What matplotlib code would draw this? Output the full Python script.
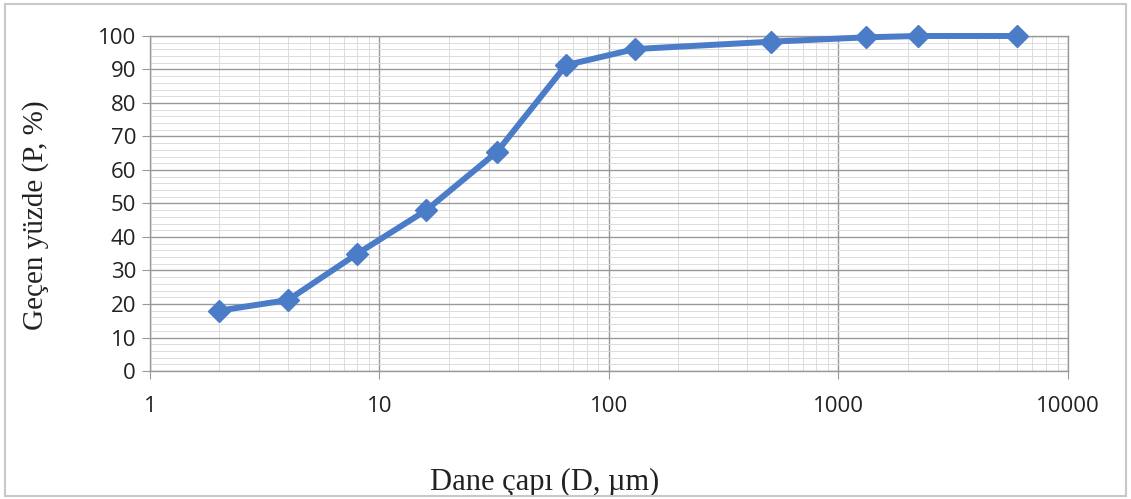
import numpy as np
import matplotlib.pyplot as plt
from matplotlib.ticker import LogLocator, MultipleLocator, FixedLocator, FixedFormatter

# Grain size distribution (cumulative passing)
diameter_um = [2, 4, 8, 16, 32.5, 65, 130, 510, 1320, 2220, 6000]
passing_pct = [18, 21.2, 35, 48, 65.4, 91.3, 96.1, 98.3, 99.6, 100, 100]

x_ticks = [1, 10, 100, 1000, 10000]
x_tick_labels = ["1", "10", "100", "1000", "10000"]

fig = plt.figure(figsize=(11.31, 4.99), dpi=100)
ax = fig.add_axes([0.1326, 0.2565, 0.8117, 0.6714])

ax.plot(diameter_um, passing_pct, color="#4a7cc8", lw=4.3, marker="D",
        markersize=11, markerfacecolor="#4a7cc8", markeredgecolor="#4a7cc8",
        zorder=3, clip_on=False)

ax.set_xscale("log")
ax.set_xlim(1, 10000)
ax.set_ylim(0, 100)

ax.xaxis.set_major_locator(FixedLocator(x_ticks))
ax.xaxis.set_major_formatter(FixedFormatter(x_tick_labels))
ax.xaxis.set_minor_locator(LogLocator(base=10, subs=np.arange(2, 10), numticks=20))
ax.yaxis.set_major_locator(MultipleLocator(10))
ax.yaxis.set_minor_locator(MultipleLocator(2))

ax.grid(which="major", color="#999999", lw=1.0)
ax.grid(which="minor", color="#dcdcdc", lw=0.7)
ax.set_axisbelow(True)

for side in ax.spines.values():
    side.set_color("#999999")
    side.set_linewidth(1.0)

ax.tick_params(axis="both", which="major", length=6, color="#999999",
               labelsize=16, labelcolor="#222222", pad=4)
ax.tick_params(axis="x", which="major", pad=12)
ax.tick_params(axis="both", which="minor", length=0)
for lab in ax.get_xticklabels() + ax.get_yticklabels():
    lab.set_family("Open Sans")

ax.set_ylabel("Geçen yüzde (P, %)", family="Liberation Serif", fontsize=21,
              color="#222222", va="center")
ax.yaxis.set_label_coords(-0.125, 0.466)
ax.set_xlabel("Dane çapı (D, µm)", family="Liberation Serif", fontsize=22,
              color="#222222", va="center")
ax.xaxis.set_label_coords(0.43, -0.334)

# thin frame around the whole chart area
fig.patches.append(plt.Rectangle((0.004, 0.006), 0.992, 0.985, transform=fig.transFigure,
                                 fill=False, edgecolor="#c8c8c8", lw=1.5))

fig.savefig("out.png", dpi=100, facecolor="white")
